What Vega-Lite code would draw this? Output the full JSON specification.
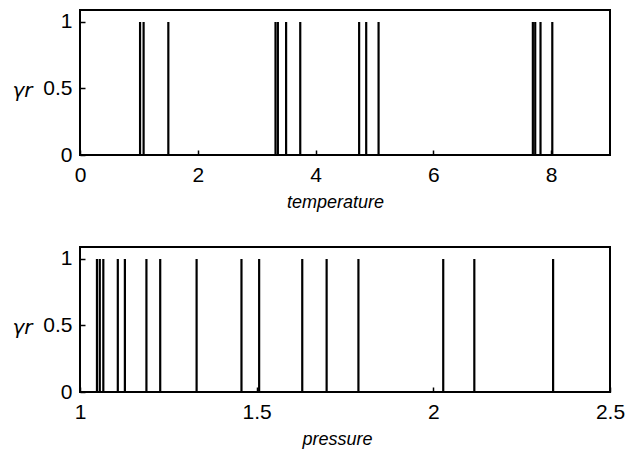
{
  "$schema": "https://vega.github.io/schema/vega-lite/v6.json",
  "padding": {"left": 10, "top": 9, "right": 5, "bottom": 5},
  "bounds": "flush",
  "spacing": 92,
  "background": "white",
  "datasets": {
    "temp": [
      {"x": 1.02, "g": 1}, {"x": 1.08, "g": 1}, {"x": 1.50, "g": 1},
      {"x": 3.32, "g": 1}, {"x": 3.36, "g": 1}, {"x": 3.50, "g": 1}, {"x": 3.74, "g": 1},
      {"x": 4.74, "g": 1}, {"x": 4.86, "g": 1}, {"x": 5.07, "g": 1},
      {"x": 7.69, "g": 1}, {"x": 7.73, "g": 1}, {"x": 7.82, "g": 1}, {"x": 8.02, "g": 1}
    ],
    "pres": [
      {"x": 1.048, "g": 1}, {"x": 1.056, "g": 1}, {"x": 1.066, "g": 1},
      {"x": 1.107, "g": 1}, {"x": 1.127, "g": 1}, {"x": 1.188, "g": 1}, {"x": 1.227, "g": 1},
      {"x": 1.330, "g": 1}, {"x": 1.457, "g": 1}, {"x": 1.507, "g": 1}, {"x": 1.629, "g": 1},
      {"x": 1.698, "g": 1}, {"x": 1.788, "g": 1}, {"x": 2.028, "g": 1}, {"x": 2.116, "g": 1},
      {"x": 2.339, "g": 1}
    ]
  },
  "vconcat": [
    {
      "width": 530,
      "height": 145,
      "data": {"name": "temp"},
      "mark": {"type": "rule", "color": "black", "strokeWidth": 2.2},
      "encoding": {
        "x": {
          "field": "x", "type": "quantitative",
          "scale": {"domain": [0, 9], "nice": false, "zero": false},
          "axis": {"values": [0, 2, 4, 6, 8], "title": "temperature", "titleX": 255, "titleY": 52}
        },
        "y": {
          "field": "g", "type": "quantitative",
          "scale": {"domain": [0, 1.09], "nice": false},
          "axis": {"values": [0, 0.5, 1], "title": "γr", "titleAngle": 0, "titleX": -58, "titleY": 80, "titleAlign": "center", "titleBaseline": "middle", "titleFontSize": 20, "titleFont": "DejaVu Sans"}
        },
        "y2": {"datum": 0}
      }
    },
    {
      "width": 530,
      "height": 145,
      "data": {"name": "pres"},
      "mark": {"type": "rule", "color": "black", "strokeWidth": 2.2},
      "encoding": {
        "x": {
          "field": "x", "type": "quantitative",
          "scale": {"domain": [1, 2.5], "nice": false, "zero": false},
          "axis": {"values": [1, 1.5, 2, 2.5], "title": "pressure", "titleX": 257, "titleY": 52}
        },
        "y": {
          "field": "g", "type": "quantitative",
          "scale": {"domain": [0, 1.09], "nice": false},
          "axis": {"values": [0, 0.5, 1], "title": "γr", "titleAngle": 0, "titleX": -58, "titleY": 80, "titleAlign": "center", "titleBaseline": "middle", "titleFontSize": 20, "titleFont": "DejaVu Sans"}
        },
        "y2": {"datum": 0}
      }
    }
  ],
  "config": {
    "font": "Liberation Sans",
    "view": {"stroke": "black", "strokeWidth": 2},
    "axis": {
      "domain": false,
      "grid": false,
      "tickSize": -5,
      "tickColor": "black",
      "tickWidth": 1.5,
      "labelFont": "Liberation Sans",
      "labelFontSize": 21,
      "labelColor": "black",
      "labelExpr": "'' + datum.value",
      "titleFont": "Liberation Sans",
      "titleFontStyle": "italic",
      "titleFontWeight": "normal",
      "titleFontSize": 18,
      "titleColor": "black"
    },
    "axisX": {"labelPadding": 14, "labelFlush": false, "titleAlign": "center", "titleBaseline": "alphabetic"},
    "axisY": {"labelPadding": 13}
  }
}
